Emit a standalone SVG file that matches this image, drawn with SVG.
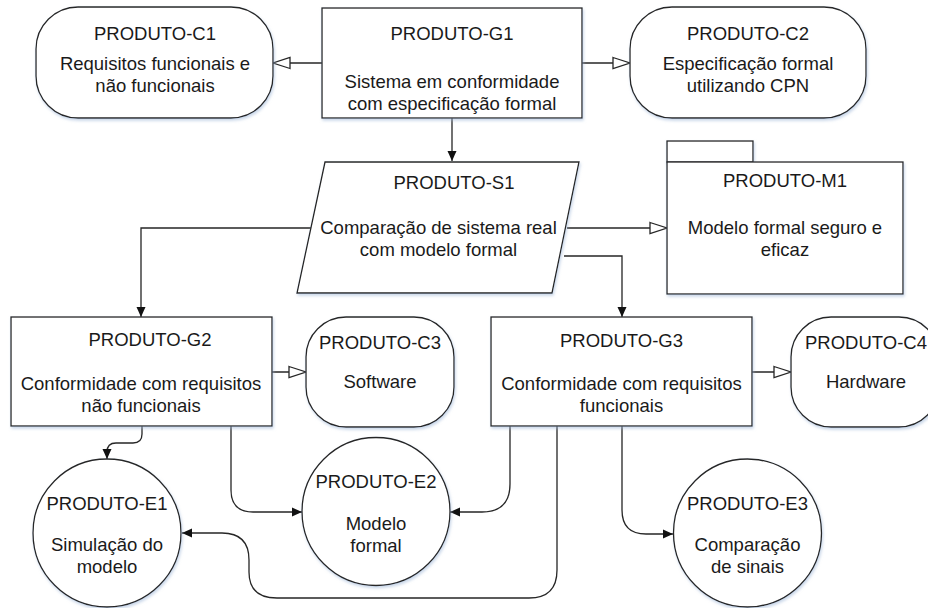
<svg xmlns="http://www.w3.org/2000/svg" width="928" height="608" viewBox="0 0 928 608">
<style>
.s{fill:#fff;stroke:#262626;stroke-width:1.3;filter:url(#sh)}
.t{font-family:"Liberation Sans",Arial,sans-serif;font-size:18.5px;fill:#1a1a1a;text-anchor:middle}
.c{fill:none;stroke:#262626;stroke-width:1.3}
.o{marker-end:url(#open)}
.f{marker-end:url(#fill)}
</style>
<defs>
<filter id="sh" x="-10%" y="-10%" width="130%" height="130%">
<feDropShadow dx="1" dy="2" stdDeviation="1.5" flood-color="#9bb4d6" flood-opacity="0.55"/>
</filter>
<marker id="open" markerUnits="userSpaceOnUse" markerWidth="20" markerHeight="14" refX="17" refY="5.5" orient="auto" overflow="visible">
<path d="M0,0 L17,5.5 L0,11 Z" fill="#fff" stroke="#262626" stroke-width="1.3"/>
</marker>
<marker id="fill" markerUnits="userSpaceOnUse" markerWidth="12" markerHeight="10" refX="10" refY="4.5" orient="auto" overflow="visible">
<path d="M0,0 L10,4.5 L0,9 Z" fill="#111"/>
</marker>
</defs>
<rect width="928" height="608" fill="#fff"/>
<g id="connectors">
<path class="c o" d="M322,63 H273"/>
<path class="c o" d="M582,63 H630"/>
<path class="c f" d="M452,118 V161"/>
<path class="c o" d="M567,228 H667"/>
<path class="c f" d="M311,228 H141 V317"/>
<path class="c f" d="M564,256 H622 V317"/>
<path class="c o" d="M272,372 H306"/>
<path class="c o" d="M752,372 H791"/>
<path class="c f" d="M142,426 V434 Q142,443 133,443 H116 Q107,443 107,452 V459"/>
<path class="c f" d="M231,426 V490 Q231,512 253,512 H302"/>
<path class="c f" d="M510,426 V484 Q510,512 482,512 H450"/>
<path class="c f" d="M622,426 V510 Q622,534 646,534 H673"/>
<path class="c f" d="M557,426 V570 Q557,598 529,598 H277 Q249,598 249,572 V560 Q249,533 222,533 H182"/>
</g>
<g id="C1"><rect class="s" x="36" y="7" width="237" height="111" rx="42"/>
<text class="t" x="155" y="40">PRODUTO-C1</text><text class="t" x="155" y="70">Requisitos funcionais e</text><text class="t" x="155" y="92">não funcionais</text></g>
<g id="G1"><rect class="s" x="322" y="8" width="260" height="110"/>
<text class="t" x="452" y="40">PRODUTO-G1</text><text class="t" x="452" y="88">Sistema em conformidade</text><text class="t" x="452" y="110">com especificação formal</text></g>
<g id="C2"><rect class="s" x="630" y="7" width="236" height="111" rx="42"/>
<text class="t" x="748" y="40">PRODUTO-C2</text><text class="t" x="748" y="70">Especificação formal</text><text class="t" x="748" y="92">utilizando CPN</text></g>
<g id="S1"><path class="s" d="M325,162 H579 L552,293 H297 Z"/>
<text class="t" x="454" y="189">PRODUTO-S1</text><text class="t" x="438.5" y="234">Comparação de sistema real</text><text class="t" x="438.5" y="256">com modelo formal</text></g>
<g id="M1"><rect class="s" x="667" y="141" width="86" height="21"/><rect class="s" x="667" y="162" width="236" height="132"/>
<text class="t" x="785" y="187">PRODUTO-M1</text><text class="t" x="785" y="234">Modelo formal seguro e</text><text class="t" x="785" y="256">eficaz</text></g>
<g id="G2"><rect class="s" x="11" y="317" width="261" height="109"/>
<text class="t" x="150" y="346">PRODUTO-G2</text><text class="t" x="141" y="390">Conformidade com requisitos</text><text class="t" x="141" y="412">não funcionais</text></g>
<g id="C3"><rect class="s" x="306" y="317" width="148" height="110" rx="40"/>
<text class="t" x="380" y="349">PRODUTO-C3</text><text class="t" x="380" y="388">Software</text></g>
<g id="G3"><rect class="s" x="491" y="317" width="261" height="109"/>
<text class="t" x="621.5" y="347">PRODUTO-G3</text><text class="t" x="621.5" y="390">Conformidade com requisitos</text><text class="t" x="621.5" y="412">funcionais</text></g>
<g id="C4"><rect class="s" x="791" y="317" width="148" height="110" rx="40"/>
<text class="t" x="866" y="349">PRODUTO-C4</text><text class="t" x="866" y="388">Hardware</text></g>
<g id="E1"><circle class="s" cx="107" cy="533" r="74"/>
<text class="t" x="107" y="510">PRODUTO-E1</text><text class="t" x="107" y="551">Simulação do</text><text class="t" x="107" y="573">modelo</text></g>
<g id="E2"><circle class="s" cx="376" cy="511.5" r="74"/>
<text class="t" x="376" y="488">PRODUTO-E2</text><text class="t" x="376" y="530">Modelo</text><text class="t" x="376" y="552">formal</text></g>
<g id="E3"><circle class="s" cx="747.5" cy="533" r="74"/>
<text class="t" x="747.5" y="510">PRODUTO-E3</text><text class="t" x="747.5" y="551">Comparação</text><text class="t" x="747.5" y="573">de sinais</text></g>
</svg>
